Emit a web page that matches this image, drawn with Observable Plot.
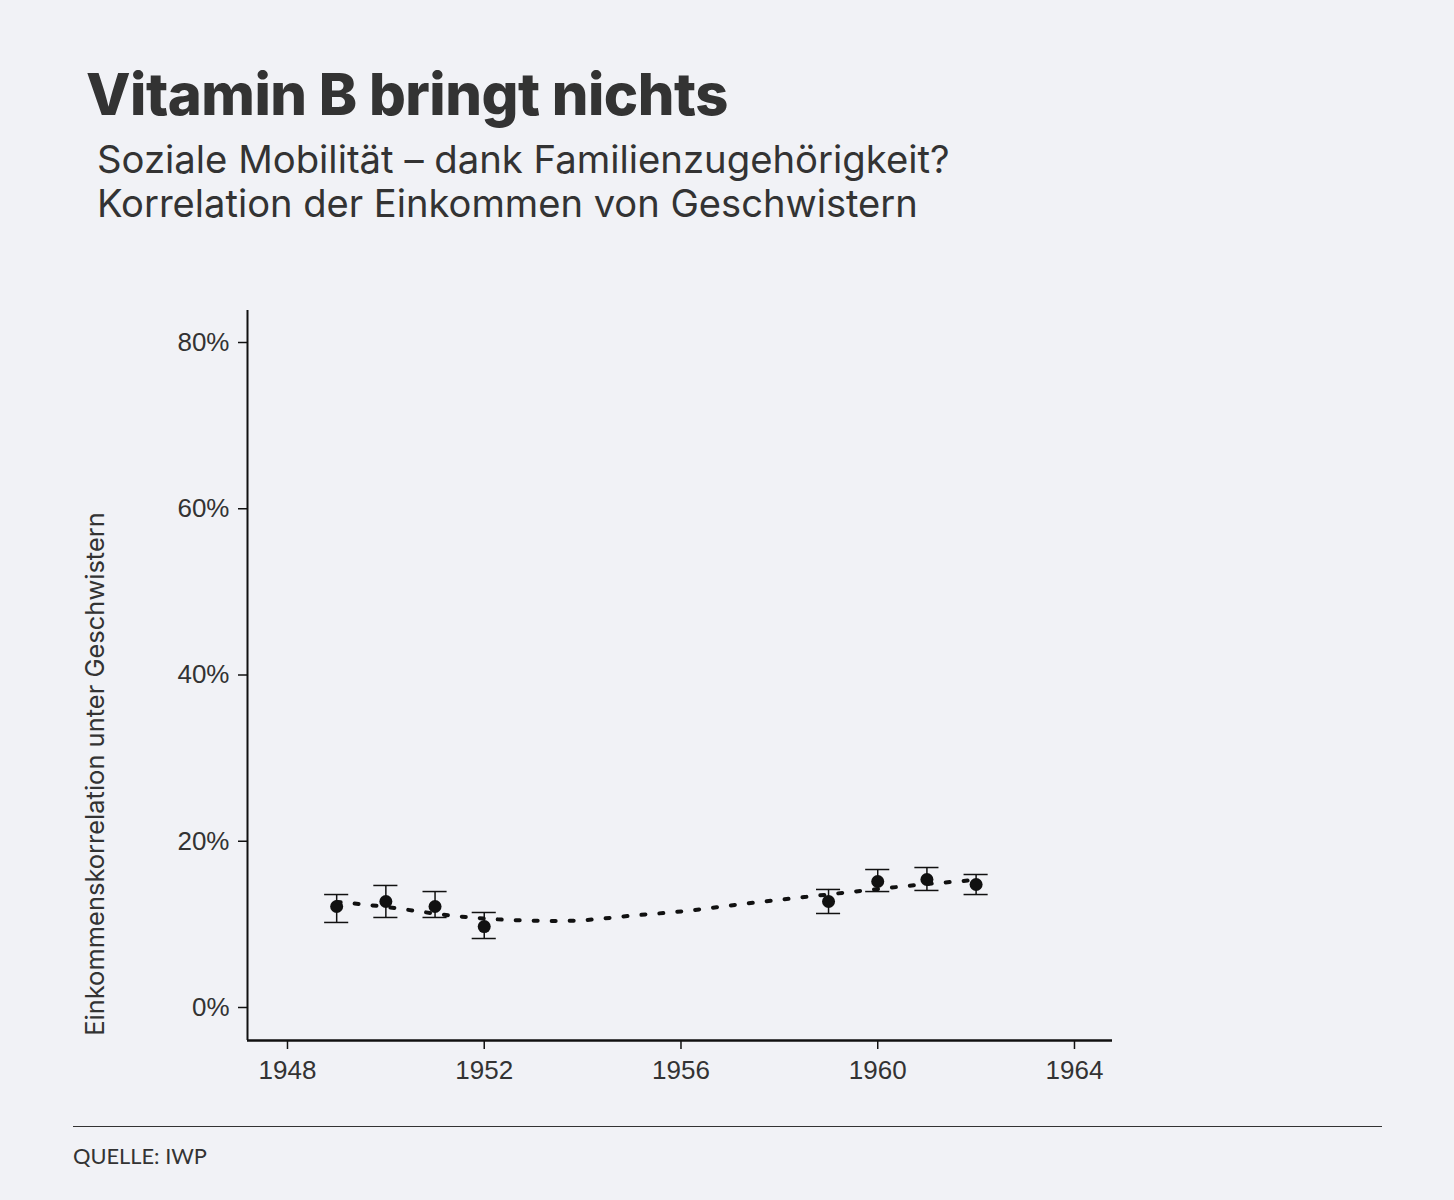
<!DOCTYPE html>
<html><head><meta charset="utf-8">
<script src="https://cdn.jsdelivr.net/npm/d3@7"></script>
<script src="https://cdn.jsdelivr.net/npm/@observablehq/plot@0.6"></script>
<style>
body{margin:0;background:#f1f2f6;}
#page{position:relative;width:1454px;height:1200px;background:#f1f2f6;color:#333;overflow:hidden;}
.t{position:absolute;white-space:nowrap;line-height:1;margin:0;}
#title{font-family:Inter,sans-serif;font-weight:800;letter-spacing:-0.5px;}
.sub{font-family:Inter,sans-serif;font-weight:400;}
#source{font-family:Lato,sans-serif;font-weight:400;}
#chart{position:absolute;left:0;top:260px;}
#rule{position:absolute;left:73px;top:1126px;width:1309px;height:1px;background:#333;}
</style></head><body>
<div id="page">
  <div id="title" class="t">Vitamin B bringt nichts</div>
  <div id="sub1" class="t sub">Soziale Mobilität – dank Familienzugehörigkeit?</div>
  <div id="sub2" class="t sub">Korrelation der Einkommen von Geschwistern</div>
  <div id="chart"></div>
  <div id="rule"></div>
  <div id="source" class="t">QUELLE: IWP</div>
</div>
<script>
// ---- data ----
const years     = [1949, 1950, 1951, 1952, 1959, 1960, 1961, 1962];
const estimates = [12.15, 12.75, 12.15, 9.74, 12.75, 15.16, 15.40, 14.80];
const upperCI   = [13.59, 14.68, 13.95, 11.43, 14.20, 16.60, 16.84, 16.00];
const lowerCI   = [10.23, 10.83, 10.83, 8.30, 11.31, 13.95, 14.08, 13.59];

const fitYears  = [1949, 1950, 1951, 1952, 1953, 1954, 1955, 1956, 1957, 1958, 1959, 1960, 1961, 1962];
const fitValues = [12.70, 12.10, 11.30, 10.70, 10.45, 10.50, 11.05, 11.55, 12.27, 12.95, 13.60, 14.25, 14.85, 15.35];

const yTicks = [0, 20, 40, 60, 80];
const xTicks = [1948, 1952, 1956, 1960, 1964];

const yLabel = "Einkommenskorrelation unter Geschwistern";

// ---- tables ----
const points = years.map((year, i) => ({year, est: estimates[i], hi: upperCI[i], lo: lowerCI[i]}));
const fit = fitYears.map((year, i) => ({year, value: fitValues[i]}));

const xDomain = [1947.187, 1964.773];
const yDomain = [-3.97, 83.85];
const capHalf = 0.245;
const ink = "#111";

const chart = Plot.plot({
  width: 1454,
  height: 840,
  marginLeft: 247,
  marginRight: 342,
  marginTop: 50,
  marginBottom: 60,
  style: {background: "transparent", fontFamily: "'Liberation Sans', Arial, sans-serif", fontSize: "26px", color: "#333"},
  x: {domain: xDomain},
  y: {domain: yDomain},
  marks: [
    Plot.axisY({ticks: yTicks, tickFormat: d => d + "%", tickSize: 9, tickPadding: 9, label: null, stroke: ink, strokeWidth: 1.5}),
    Plot.axisX({ticks: xTicks, tickFormat: d => String(d), tickSize: 9, tickPadding: 11, label: null, stroke: ink, strokeWidth: 1.5}),
    Plot.ruleX([xDomain[0]], {y1: yDomain[0], y2: yDomain[1], stroke: ink, strokeWidth: 2}),
    Plot.ruleY([yDomain[0]], {x1: xDomain[0], x2: xDomain[1], stroke: ink, strokeWidth: 2.5}),
    Plot.ruleX(points, {x: "year", y1: "lo", y2: "hi", stroke: ink, strokeWidth: 1.5}),
    Plot.ruleY(points, {y: "hi", x1: d => d.year - capHalf, x2: d => d.year + capHalf, stroke: ink, strokeWidth: 1.5}),
    Plot.ruleY(points, {y: "lo", x1: d => d.year - capHalf, x2: d => d.year + capHalf, stroke: ink, strokeWidth: 1.5}),
    Plot.dot(points, {x: "year", y: "est", r: 6.5, fill: ink, stroke: "none"}),
    Plot.line(fit, {x: "year", y: "value", curve: "natural", stroke: ink, strokeWidth: 4, strokeDasharray: "4 14"})
  ]
});
document.getElementById("chart").appendChild(chart);

// y-axis title
const svg = d3.select(chart.tagName.toLowerCase() === "svg" ? chart : chart.querySelector("svg"));
const yl = svg.append("text")
  .attr("transform", "translate(104," + (774 - 260) + ") rotate(-90)")
  .attr("text-anchor", "middle")
  .attr("fill", "#333")
  .style("font-family", "Inter, sans-serif")
  .style("font-size", "21px")
  .text(yLabel);
{
  const w = yl.node().getComputedTextLength();
  yl.style("font-size", (21 * 524 / w) + "px");
}

// fit header/footer text to reference extents
function place(id, left, baseline, width, size, ascent) {
  const el = document.getElementById(id);
  el.style.fontSize = size + "px";
  el.style.left = left + "px";
  const w = el.getBoundingClientRect().width;
  const fs = size * width / w;
  el.style.fontSize = fs + "px";
  el.style.top = (baseline - ascent * fs) + "px";
}
place("title", 86, 116, 642, 58, 0.8633);
place("sub1", 97, 173, 853, 34, 0.8633);
place("sub2", 97, 217, 821, 34, 0.8633);
place("source", 73, 1162, 134, 20, 0.8);
</script>
</body></html>
